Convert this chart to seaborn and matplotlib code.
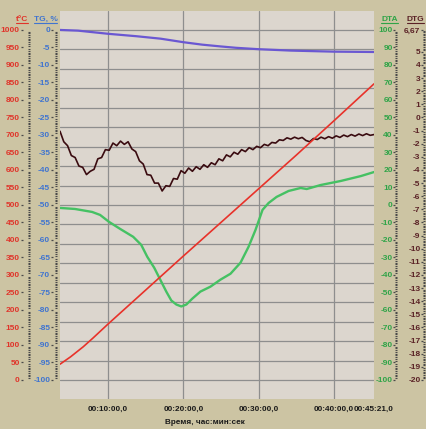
import numpy as np
import matplotlib
matplotlib.use("Agg")
import matplotlib.pyplot as plt
import seaborn as sns
from matplotlib.lines import Line2D
from matplotlib.transforms import IdentityTransform
from matplotlib.ticker import FuncFormatter

# ---------------- data (time in minutes) ----------------
temp_time = [3.6, 5.0, 6.7, 8.0, 10.0, 15.0, 20.0, 25.0, 30.0, 35.0, 40.0, 45.35]
temp_c = [45, 66, 95, 120, 160, 257, 354, 450, 546, 642, 740, 846]

tg_time = [3.6, 6.0, 10.0, 13.8, 17.0, 20.0, 22.5, 24.9, 27.0, 30.0, 34.3, 40.0, 45.35]
tg_pct = [0.0, -0.2, -1.1, -1.8, -2.5, -3.5, -4.2, -4.7, -5.1, -5.5, -5.9, -6.2, -6.3]

dta_time = [3.6, 5.6, 7.87, 8.93, 10.13, 11.6, 13.33, 14.4, 15.2, 16.13, 16.93, 17.73,
            18.4, 19.07, 19.73, 20.4, 21.2, 22.27, 23.6, 24.93, 26.27, 27.6, 28.67,
            29.6, 30.53, 31.33, 32.4, 34.0, 35.6, 36.4, 38.27, 40.93, 43.6, 45.35]
dta_uv = [-1.7, -2.3, -4.0, -5.7, -9.7, -13.7, -18.2, -22.8, -29.6, -35.9, -42.7, -49.5,
          -54.6, -56.9, -58.0, -56.9, -53.5, -49.5, -46.7, -42.7, -39.3, -33.0, -23.9,
          -14.2, -2.8, 1.1, 4.6, 8.0, 9.7, 9.1, 11.4, 13.7, 16.5, 18.8]

# DTG trace, sampled evenly over the run
dtg_start, dtg_end = 3.6, 45.35
dtg_val = [-1.05, -1.85, -2.15, -2.9, -3.05, -3.7, -3.8, -4.35, -4.1, -3.95,
           -3.15, -3.05, -2.45, -2.5, -1.95, -2.15, -1.8, -2.05, -1.85, -2.4,
           -2.6, -3.3, -3.55, -4.35, -4.4, -5.0, -5.0, -5.6, -5.2, -5.25,
           -4.65, -4.7, -4.05, -4.25, -3.85, -4.1, -3.75, -3.95, -3.6, -3.8,
           -3.45, -3.6, -3.15, -3.3, -2.85, -3.0, -2.65, -2.8, -2.45, -2.6,
           -2.3, -2.45, -2.2, -2.3, -2.05, -2.15, -1.9, -1.95, -1.7, -1.75,
           -1.55, -1.65, -1.5, -1.62, -1.52, -1.75, -1.85, -1.6, -1.68, -1.5,
           -1.62, -1.46, -1.58, -1.4, -1.52, -1.34, -1.46, -1.3, -1.42, -1.26,
           -1.38, -1.24, -1.36, -1.3]
dtg_time = np.linspace(dtg_start, dtg_end, len(dtg_val))

x_ticks = [10, 20, 30, 40, 45.35]

# ---------------- styling ----------------
sns.set_theme(style="white")
plt.rcParams["font.family"] = ["Liberation Sans Narrow", "Liberation Sans", "DejaVu Sans"]
plt.rcParams["font.weight"] = "bold"
plt.rcParams["xtick.labelsize"] = 5.9
plt.rcParams["ytick.labelsize"] = 6

FIG_W, FIG_H = 426, 429
PL, PR, PT, PB = 60, 374, 10.5, 399.4
PW, PH = PR - PL, PB - PT
PT2PX = 0.72  # points per pixel at 100 dpi

OUTER_BG = "#CCC4A3"
PLOT_BG = "#DCD6CE"
GRID_C = "#8E8E8E"
TICK_C = "#4A4A4A"

C_TEMP, C_TG, C_DTA, C_DTG = "#E0342A", "#3F74D0", "#2FA447", "#5A2226"
L_TEMP, L_TG, L_DTA, L_DTG = "#E8322A", "#6A57D2", "#45C163", "#3A0B10"

fig = plt.figure(figsize=(FIG_W / 100, FIG_H / 100), dpi=100, facecolor=OUTER_BG)
host = fig.add_axes([PL / FIG_W, 1 - PB / FIG_H, PW / FIG_W, PH / FIG_H])
host.set_facecolor(PLOT_BG)
for s in host.spines.values():
    s.set_visible(False)

# background grid: 18 equal divisions of the value range, plus vertical time lines
host.set_ylim(0, 20)
host.set_yticks(range(1, 20))
host.tick_params(axis="y", length=0, labelleft=False, labelright=False)
host.set_xlim(dtg_start, dtg_end)
host.set_xticks(x_ticks)


def hms(m, pos=None):
    total = int(round(m * 60))
    return "00:%02d:%02d,0" % (total // 60, total % 60)


host.xaxis.set_major_formatter(FuncFormatter(hms))
host.set_xticks(np.arange(4, 46, 1), minor=True)
host.spines["bottom"].set_position(("outward", 2 * PT2PX))
host.tick_params(axis="x", which="both", direction="out", length=2.5 * PT2PX,
                 width=0.9, color=TICK_C, pad=2 * PT2PX, labelcolor="#1A1A1A")
host.grid(True, which="major", color=GRID_C, linewidth=0.9)


def make_scale(lo, hi, majors, labels, minor_step, col_x, dash_x, label_right, color):
    span = hi - lo
    lims = (lo - span / 18, hi + span / 18)
    ax = host.twinx()
    ax.set_ylim(*lims)
    ax.patch.set_visible(False)
    for s in ax.spines.values():
        s.set_visible(False)
    ax.yaxis.set_ticks_position("left")
    ax.spines["left"].set_position(("axes", (col_x - PL) / PW))
    ax.set_yticks(majors)
    ax.set_yticklabels(labels, color=color)
    ax.set_yticks(np.arange(lo, hi + 1e-9, minor_step), minor=True)
    ax.tick_params(axis="y", which="major", length=0, labelcolor=color,
                   pad=(col_x - label_right) * PT2PX)
    ax.tick_params(axis="y", which="minor", direction="out", length=2 * PT2PX,
                   width=0.8, color=TICK_C)
    ax.grid(False)
    # short dash beside every labelled value
    d = host.twinx()
    d.set_ylim(*lims)
    d.patch.set_visible(False)
    for s in d.spines.values():
        s.set_visible(False)
    d.yaxis.set_ticks_position("left")
    d.spines["left"].set_position(("axes", (dash_x - PL) / PW))
    d.set_yticks(majors)
    d.set_yticks([], minor=True)
    d.tick_params(axis="y", which="major", direction="out", length=2.2 * PT2PX,
                  width=0.9, color=TICK_C, labelleft=False)
    d.grid(False)
    return ax


tg_major = list(range(0, -101, -5))
ax_tg = make_scale(-100, 0, tg_major, [str(v) for v in tg_major], 0.5,
                   56.5, 52.8, 50.2, C_TG)
dtg_major = [6.67] + list(range(5, -21, -1))
ax_dtg = make_scale(-20, 6.67, dtg_major, ["6,67"] + [str(v) for v in range(5, -21, -1)],
                    0.125, 424.5, 422.8, 420.5, C_DTG)
dta_major = list(range(100, -101, -10))
ax_dta = make_scale(-100, 100, dta_major, [str(v) for v in dta_major], 1,
                    397, 395.3, 392.8, C_DTA)
temp_major = list(range(0, 1001, 50))
ax_temp = make_scale(0, 1000, temp_major, [str(v) for v in temp_major], 5,
                     30.5, 22.8, 19.8, C_TEMP)

# curves
sns.lineplot(x=tg_time, y=tg_pct, ax=ax_tg, color=L_TG, linewidth=1.6, estimator=None)
sns.lineplot(x=dtg_time, y=dtg_val, ax=ax_dtg, color=L_DTG, linewidth=1.2, estimator=None)
sns.lineplot(x=dta_time, y=dta_uv, ax=ax_dta, color=L_DTA, linewidth=1.7, estimator=None)
sns.lineplot(x=temp_time, y=temp_c, ax=ax_temp, color=L_TEMP, linewidth=1.2, estimator=None)

# restore limits after seaborn autoscaling
for ax, lo, hi in [(ax_tg, -100, 0), (ax_dtg, -20, 6.67), (ax_dta, -100, 100), (ax_temp, 0, 1000)]:
    span = hi - lo
    ax.set_ylim(lo - span / 18, hi + span / 18)
    ax.set_xlabel("")
    ax.set_ylabel("")
host.set_xlim(dtg_start, dtg_end)
host.set_xticks(x_ticks)

# scale titles (underlined)
titles = [("t°C", 21.7, C_TEMP), ("TG, %", 45.5, C_TG), ("DTA", 389.5, C_DTA), ("DTG", 415.5, C_DTG)]
title_artists = []
for txt, xp, c in titles:
    t = fig.text(xp / FIG_W, 1 - 19.5 / FIG_H, txt, ha="center", va="center",
                 fontsize=6, color=c)
    title_artists.append((t, c))

fig.text(205 / FIG_W, 1 - 422.5 / FIG_H, "Время, час:мин:сек", ha="center", va="center",
         fontsize=5.9, color="#1A1A1A", family=["Liberation Sans", "DejaVu Sans"])

fig.canvas.draw()
renderer = fig.canvas.get_renderer()
# time labels use the regular-width face; the end-of-run line is not a grid line
for lab in host.get_xticklabels():
    lab.set_family(["Liberation Sans", "DejaVu Sans"])
    lab.set_fontweight("bold")
    lab.set_fontsize(5.9)
gl = host.get_xgridlines()
if gl:
    gl[-1].set_visible(False)
for t, c in title_artists:
    bb = t.get_window_extent(renderer)
    fig.add_artist(Line2D([bb.x0, bb.x1], [bb.y0 + 0.3, bb.y0 + 0.3],
                          transform=IdentityTransform(), color=c, linewidth=0.8))

fig.savefig("out.png", dpi=100, facecolor=OUTER_BG)
